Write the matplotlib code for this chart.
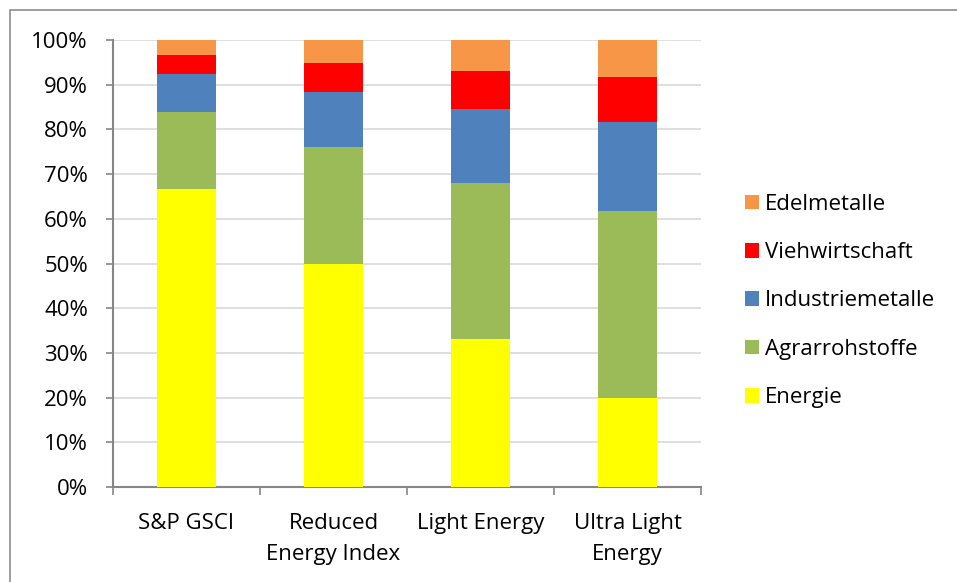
import matplotlib.pyplot as plt
import matplotlib.patches as mpatches
import numpy as np

# ── Data ───────────────────────────────────────────────────────────────────────
CATEGORIES = ["S&P GSCI", "Reduced\nEnergy Index", "Light Energy", "Ultra Light\nEnergy"]

SECTORS = ["Energie", "Agrarrohstoffe", "Industriemetalle", "Viehwirtschaft", "Edelmetalle"]
energie          = [66.6, 49.8, 33.1, 19.9]
agrarrohstoffe   = [17.4, 26.2, 34.9, 41.8]
industriemetalle = [8.3, 12.4, 16.6, 19.9]
viehwirtschaft   = [4.3, 6.5, 8.5, 10.2]
edelmetalle      = [3.4, 5.1, 6.9, 8.2]

SECTOR_COLORS = ["#FFFF00", "#9BBB59", "#4F81BD", "#FF0000", "#F79646"]

# ── Style ──────────────────────────────────────────────────────────────────────
plt.rcParams.update({
    "font.family": ["Open Sans", "DejaVu Sans"],
    "font.size":   16,
})
AXIS_GRAY = "#868686"

W, H = 957, 582
fig = plt.figure(figsize=(W / 100, H / 100), dpi=100)
fig.patch.set_facecolor("white")

# chart-area border (left and top edges visible)
fig.patches.append(mpatches.Rectangle((10 / W, -0.1), 1.2, 1.1 - 10 / H,
                                      transform=fig.transFigure, fill=False,
                                      edgecolor="#8c8c8c", linewidth=1.2))

ax = fig.add_axes([113 / W, (H - 487) / H, 588 / W, 447 / H])

series = [energie, agrarrohstoffe, industriemetalle, viehwirtschaft, edelmetalle]
x = np.arange(len(CATEGORIES))
bottom = np.zeros(len(CATEGORIES))
handles = []
for name, vals, col in zip(SECTORS, series, SECTOR_COLORS):
    vals = np.array(vals) / 100.0
    b = ax.bar(x, vals, bottom=bottom, width=0.4, color=col, label=name,
               edgecolor="none", zorder=3)
    handles.append(b)
    bottom += vals

ax.set_xlim(-0.5, len(CATEGORIES) - 0.5)
ax.set_ylim(0, 1)
ax.set_yticks(np.arange(0, 1.01, 0.1))
ax.set_yticklabels([f"{int(round(v * 100))}%" for v in np.arange(0, 1.01, 0.1)])
ax.yaxis.grid(True, color="#d9d9d9", linewidth=1.2, zorder=0)
ax.set_axisbelow(True)

# category boundary ticks on the x axis, labels centred under bars
ax.set_xticks(np.arange(-0.5, len(CATEGORIES)), minor=False)
ax.set_xticklabels([])
ax.set_xticks(x, minor=True)
ax.set_xticklabels(CATEGORIES, minor=True, va="top", linespacing=1.62)
ax.tick_params(axis="x", which="major", length=6, color=AXIS_GRAY, width=1.2)
ax.tick_params(axis="x", which="minor", length=0, pad=19)
ax.tick_params(axis="y", length=5, color=AXIS_GRAY, width=1.2, pad=13)

for side in ("top", "right"):
    ax.spines[side].set_visible(False)
for side in ("left", "bottom"):
    ax.spines[side].set_color(AXIS_GRAY)
    ax.spines[side].set_linewidth(1.5)

leg = fig.legend(handles[::-1], SECTORS[::-1], loc="center left",
                 bbox_to_anchor=(745 / W, (H - 301) / H), frameon=False,
                 borderpad=0, borderaxespad=0,
                 handlelength=0.63, handleheight=0.63, handletextpad=0.28,
                 labelspacing=1.23, fontsize=16)

fig.savefig("out.png", dpi=100)
